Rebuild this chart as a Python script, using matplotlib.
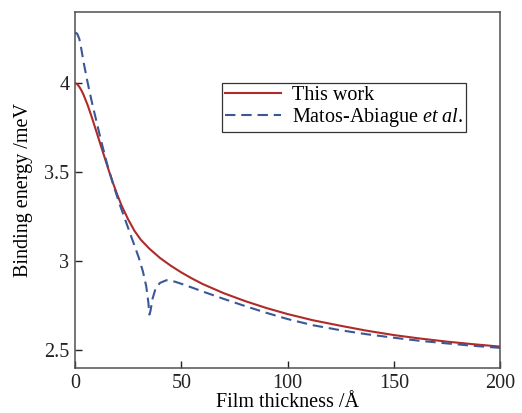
import matplotlib
matplotlib.use("Agg")
import matplotlib.pyplot as plt
from matplotlib.ticker import FormatStrFormatter

plt.rcParams['font.family'] = ['Liberation Serif', 'DejaVu Serif']
plt.rcParams['mathtext.fontset'] = 'custom'
plt.rcParams['mathtext.it'] = 'Liberation Serif:italic'
plt.rcParams['mathtext.rm'] = 'Liberation Serif'

# this work (red, solid)
d_this = [0, 1, 2, 3, 4, 6, 8, 10, 12, 14, 16, 18, 20, 22, 25, 28, 31, 35, 40, 45, 50, 55, 60, 70, 80,
          90, 100, 112, 125, 137, 150, 162, 175, 187, 200]
e_this = [4.00, 3.995, 3.98, 3.96, 3.935, 3.875, 3.805, 3.73, 3.655, 3.58, 3.505, 3.435, 3.37, 3.31,
          3.235, 3.17, 3.12, 3.07, 3.018, 2.975, 2.937, 2.903, 2.872, 2.82, 2.776, 2.737, 2.703,
          2.668, 2.637, 2.61, 2.585, 2.566, 2.548, 2.534, 2.52]

# Matos-Abiague et al. (blue, dashed)
d_mat = [0, 1, 2, 3, 4, 6, 8, 10, 12, 15, 18, 21, 24, 27, 30, 32, 33.5, 34.5, 35, 35.5, 36.5, 38,
         40, 43, 47, 50, 55, 60, 70, 80, 90, 100, 112, 125, 137, 150, 162, 175, 187, 200]
e_mat = [4.285, 4.278, 4.25, 4.19, 4.12, 4.00, 3.89, 3.79, 3.69, 3.55, 3.43, 3.32, 3.22, 3.12, 3.02,
         2.94, 2.86, 2.77, 2.70, 2.72, 2.79, 2.85, 2.878, 2.893, 2.885, 2.873, 2.852, 2.83, 2.788,
         2.748, 2.71, 2.675, 2.64, 2.612, 2.59, 2.57, 2.553, 2.538, 2.525, 2.513]

fig = plt.figure(figsize=(5.22, 4.13), dpi=100)
ax = fig.add_axes([0.1437, 0.109, 0.8143, 0.862])

ax.plot(d_this, e_this, color='#b02a2a', lw=1.5, label='This work')
ax.plot(d_mat, e_mat, color='#3a5896', lw=1.5, dashes=(5, 2.8), label='Matos-Abiague $\\it{et\\ al}$.')

ax.set_xlim(0, 200)
ax.set_ylim(2.4, 4.4)
ax.set_xticks([0, 50, 100, 150, 200])
ax.set_yticks([2.5, 3, 3.5, 4])
ax.yaxis.set_major_formatter(FormatStrFormatter('%g'))
ax.tick_params(direction='in', length=5, width=1, labelsize=14.5, colors='#222222', pad=4,
               top=False, right=False)
for s in ax.spines.values():
    s.set_color('#505050')
    s.set_linewidth(1.1)

ax.set_xlabel('Film thickness /Å', fontsize=14.5, labelpad=0)
ax.set_ylabel('Binding energy /meV', fontsize=14.5, labelpad=8)

leg = ax.legend(loc='upper left', bbox_to_anchor=(0.346, 0.80), fontsize=14.5, frameon=True,
                fancybox=False, edgecolor='black', handlelength=2.8, handletextpad=0.5,
                borderpad=0.15, labelspacing=0.05, borderaxespad=0)
leg.get_frame().set_linewidth(0.9)

fig.savefig('out.png', dpi=100)
